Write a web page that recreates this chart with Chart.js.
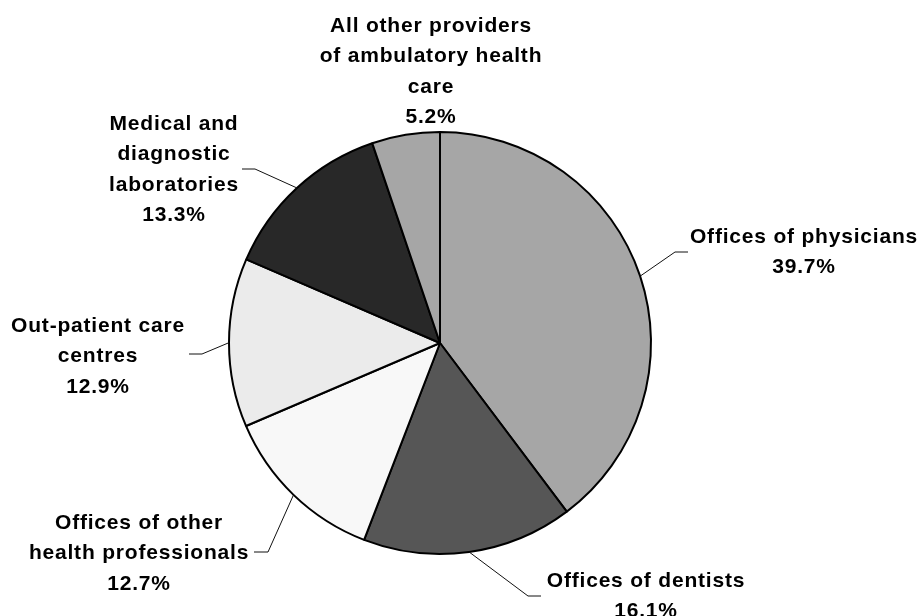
<!DOCTYPE html>
<html>
<head>
<meta charset="utf-8">
<script src="https://cdn.jsdelivr.net/npm/chart.js@4"></script>
<style>
  html, body { margin: 0; padding: 0; background: #fff; }
  #wrap { width: 920px; height: 616px; }
</style>
</head>
<body>
<div id="wrap"><canvas id="myChart" width="920" height="616"></canvas></div>
<script>
// data (clockwise from 12 o'clock)
var categories = [
  "Offices of physicians",
  "Offices of dentists",
  "Offices of other\nhealth professionals",
  "Out-patient care\ncentres",
  "Medical and\ndiagnostic\nlaboratories",
  "All other providers\nof ambulatory health\ncare"
];
var shares = [39.7, 16.1, 12.7, 12.9, 13.3, 5.2];
var sliceColors = ["#a6a6a6", "#565656", "#f8f8f8", "#ebebeb", "#282828", "#a6a6a6"];

// where each label sits and where its leader line bends
var labelPos = [
  { x: 804, y: 237, elbow: [675, 252], end: [688, 252] },
  { x: 646, y: 581, elbow: [528, 596], end: [541, 596] },
  { x: 139, y: 523, elbow: [268, 552], end: [254, 552] },
  { x: 98,  y: 326, elbow: [202, 354], end: [189, 354] },
  { x: 174, y: 124, elbow: [255, 169], end: [242, 169] },
  { x: 431, y: 26,  elbow: null }
];
var lineGap = 30.5;

// ************ labels + leader lines ***************
var pieLabels = {
  id: "pieLabels",
  afterDraw: function (chart) {
    var ctx = chart.ctx;
    var arcs = chart.getDatasetMeta(0).data;
    ctx.save();
    ctx.strokeStyle = "#111";
    ctx.lineWidth = 1;
    arcs.forEach(function (arc, i) {
      var p = labelPos[i];
      if (!p.elbow) return;
      var mid = (arc.startAngle + arc.endAngle) / 2;
      var ax = arc.x + Math.cos(mid) * arc.outerRadius;
      var ay = arc.y + Math.sin(mid) * arc.outerRadius;
      ctx.beginPath();
      ctx.moveTo(ax, ay);
      ctx.lineTo(p.elbow[0], p.elbow[1]);
      ctx.lineTo(p.end[0], p.end[1]);
      ctx.stroke();
    });

    ctx.fillStyle = "#000";
    ctx.font = "bold 21px 'Liberation Sans', Arial, sans-serif";
    ctx.textAlign = "center";
    ctx.textBaseline = "middle";
    if ("letterSpacing" in ctx) ctx.letterSpacing = "0.8px";
    categories.forEach(function (name, i) {
      var lines = name.split("\n");
      lines.push(shares[i].toFixed(1) + "%");
      var p = labelPos[i];
      lines.forEach(function (txt, j) {
        ctx.fillText(txt, p.x, p.y + j * lineGap);
      });
    });
    ctx.restore();
  }
};

var myChart = document.getElementById("myChart").getContext("2d");
var chart = new Chart(myChart, {
  type: "pie",
  data: {
    labels: categories,
    datasets: [
      {
        data: shares,
        backgroundColor: sliceColors,
        borderColor: "#000",
        borderWidth: 2,
      },
    ],
  },
  options: {
    responsive: false,
    animation: false,
    radius: 211,
    layout: {
      padding: { top: 132, bottom: 62, left: 229, right: 269 },
    },
    plugins: {
      legend: { display: false },
      tooltip: { enabled: false },
    },
  },
  plugins: [pieLabels],
});
</script>
</body>
</html>
